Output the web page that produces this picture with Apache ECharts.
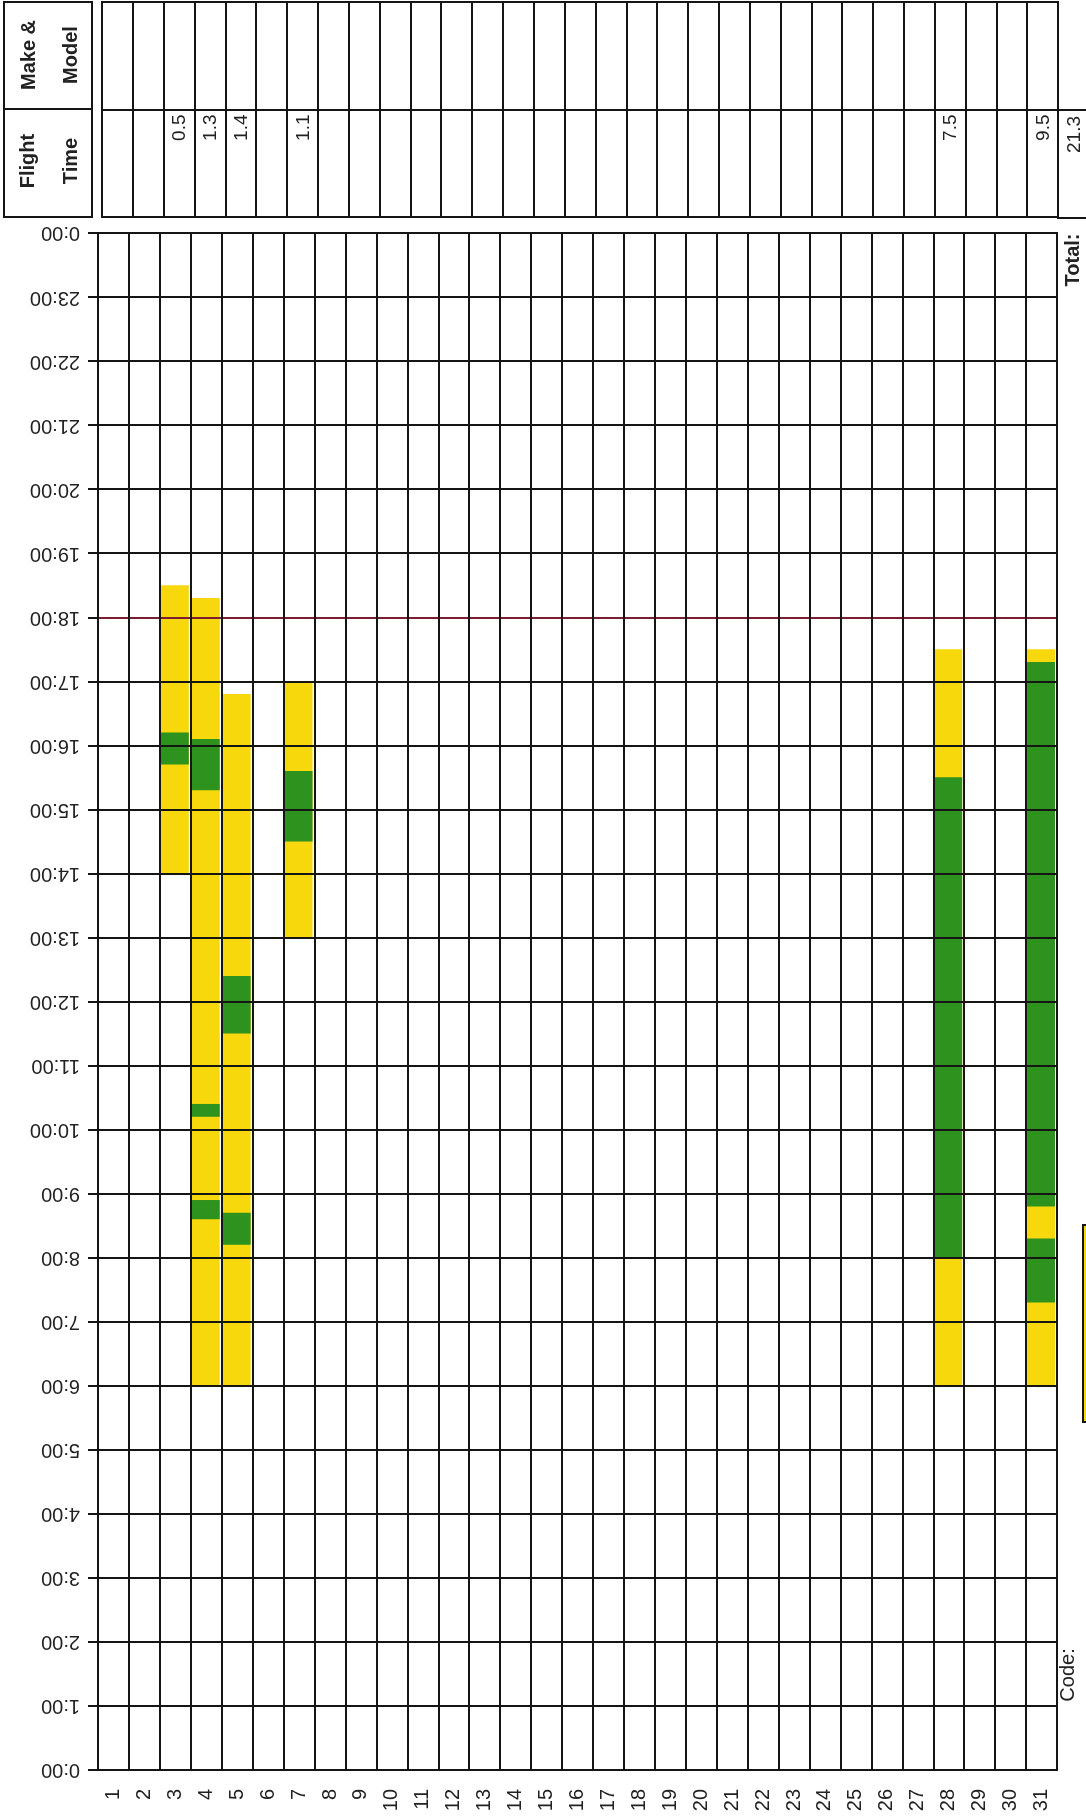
<!DOCTYPE html>
<html>
<head>
<meta charset="utf-8">
<script src="https://cdn.jsdelivr.net/npm/echarts@6/dist/echarts.min.js"></script>
<style>
  html, body { margin: 0; padding: 0; background: #fff; }
  #chart-container { width: 1086px; height: 1817px; }
</style>
</head>
<body>
<div id="chart-container"></div>
<script>
// days of the month along the bottom
var days = ['1', '2', '3', '4', '5', '6', '7', '8', '9', '10', '11', '12', '13', '14', '15', '16',
  '17', '18', '19', '20', '21', '22', '23', '24', '25', '26', '27', '28', '29', '30', '31'];
var hourLabels = ['0:00', '1:00', '2:00', '3:00', '4:00', '5:00', '6:00', '7:00', '8:00', '9:00', '10:00',
  '11:00', '12:00', '13:00', '14:00', '15:00', '16:00', '17:00', '18:00', '19:00', '20:00',
  '21:00', '22:00', '23:00', '0:00'];

// duty periods (yellow), hours of day
var dutyDays = [3, 4, 5, 7, 28, 31];
var dutyStart = [14.0, 6.0, 6.0, 13.0, 6.0, 6.0];
var dutyEnd = [18.5, 18.3, 16.8, 17.0, 17.5, 17.5];

// flight periods (green)
var flightDays = [3, 4, 4, 4, 5, 5, 7, 28, 31, 31];
var flightStart = [15.7, 8.6, 10.2, 15.3, 8.2, 11.5, 14.5, 8.0, 7.3, 8.8];
var flightEnd = [16.2, 8.9, 10.4, 16.1, 8.7, 12.4, 15.6, 15.5, 8.3, 17.3];

// flight time row of the table
var timeDays = [3, 4, 5, 7, 28, 31];
var timeHours = ['0.5', '1.3', '1.4', '1.1', '7.5', '9.5'];
var totalTime = '21.3';

var rowNames = ['Flight Time', 'Make & Model'];

var FONT = '"Liberation Sans", Arial, sans-serif';
var YELLOW = '#F6D80C';
var GREEN = '#2E921F';
var INK = '#151515';

var dom = document.getElementById('chart-container');
var myChart = echarts.init(dom, null, { renderer: 'canvas' });

function barItem(color) {
  return function (params, api) {
    var lo = api.coord([api.value(0), api.value(1)]);
    var hi = api.coord([api.value(0), api.value(2)]);
    var w = api.size([1, 0])[0];
    return {
      type: 'rect',
      shape: { x: lo[0] - w / 2 + 1, y: hi[1], width: w - 3, height: lo[1] - hi[1] },
      style: { fill: color }
    };
  };
}

// the 18:00 line is drawn thin and dark red on the form
var splitColors = hourLabels.map(function (h, i) {
  return i === 18 ? '#7a1f2f' : INK;
});

var option = {
  backgroundColor: '#fff',
  animation: false,
  grid: [
    { left: 98, top: 233, width: 959, height: 1537, show: true, borderColor: INK, borderWidth: 2 },
    { left: 102, top: 2, width: 956, height: 215, show: true, borderColor: INK, borderWidth: 2 }
  ],
  xAxis: [
    {
      gridIndex: 0,
      type: 'category',
      data: days,
      boundaryGap: true,
      z: 5,
      axisLine: { show: true, lineStyle: { color: INK, width: 2 } },
      axisTick: { show: false },
      splitLine: { show: true, lineStyle: { color: INK, width: 2 } },
      axisLabel: {
        interval: 0, rotate: 90, margin: 19,
        color: '#222', fontFamily: FONT, fontSize: 20
      }
    },
    {
      gridIndex: 1,
      type: 'category',
      data: days,
      boundaryGap: true,
      axisLine: { show: true, lineStyle: { color: INK, width: 2 } },
      axisTick: { show: false },
      axisLabel: { show: false },
      splitLine: { show: true, lineStyle: { color: INK, width: 2 } }
    }
  ],
  yAxis: [
    {
      gridIndex: 0,
      type: 'value',
      min: 0,
      max: 24,
      interval: 1,
      z: 5,
      axisLine: { show: true, lineStyle: { color: INK, width: 2 } },
      axisTick: { show: true, length: 10, lineStyle: { color: INK, width: 2 } },
      splitLine: { show: true, lineStyle: { color: splitColors, width: 2 } },
      axisLabel: {
        rotate: 180, margin: 18,
        color: '#222', fontFamily: FONT, fontSize: 20,
        formatter: function (v) { return hourLabels[v]; }
      }
    },
    {
      gridIndex: 1,
      type: 'category',
      data: rowNames,
      axisLine: { show: true, lineStyle: { color: INK, width: 2 } },
      axisTick: { show: false },
      axisLabel: { show: false },
      splitLine: { show: true, lineStyle: { color: INK, width: 2 } }
    }
  ],
  series: [
    {
      name: 'Duty',
      type: 'custom',
      xAxisIndex: 0,
      yAxisIndex: 0,
      z: 2,
      renderItem: barItem(YELLOW),
      data: dutyDays.map(function (d, i) { return [d - 1, dutyStart[i], dutyEnd[i]]; })
    },
    {
      name: 'Flight',
      type: 'custom',
      xAxisIndex: 0,
      yAxisIndex: 0,
      z: 3,
      renderItem: barItem(GREEN),
      data: flightDays.map(function (d, i) { return [d - 1, flightStart[i], flightEnd[i]]; })
    },
    {
      name: 'Flight Time',
      type: 'custom',
      xAxisIndex: 1,
      yAxisIndex: 1,
      renderItem: function (params, api) {
        var c = api.coord([api.value(0), 0]);
        var h = api.size([0, 1])[1];
        return {
          type: 'text',
          x: c[0] + 1,
          y: c[1] - h / 2 + 5,
          rotation: Math.PI / 2,
          style: {
            text: timeHours[params.dataIndex],
            font: '19px ' + FONT,
            fill: '#222',
            align: 'right',
            verticalAlign: 'middle'
          }
        };
      },
      data: timeDays.map(function (d) { return [d - 1, 0]; })
    }
  ],
  graphic: [
    { type: 'rect', shape: { x: 4, y: 2, width: 88, height: 107 }, style: { fill: 'none', stroke: INK, lineWidth: 2 } },
    { type: 'rect', shape: { x: 4, y: 109, width: 88, height: 108 }, style: { fill: 'none', stroke: INK, lineWidth: 2 } },
    { type: 'text', x: 29, y: 55, rotation: Math.PI / 2, style: { text: 'Make &', font: 'bold 20px ' + FONT, fill: '#222', align: 'center', verticalAlign: 'middle' } },
    { type: 'text', x: 71, y: 55, rotation: Math.PI / 2, style: { text: 'Model', font: 'bold 20px ' + FONT, fill: '#222', align: 'center', verticalAlign: 'middle' } },
    { type: 'text', x: 28, y: 161, rotation: Math.PI / 2, style: { text: 'Flight', font: 'bold 20px ' + FONT, fill: '#222', align: 'center', verticalAlign: 'middle' } },
    { type: 'text', x: 71, y: 161, rotation: Math.PI / 2, style: { text: 'Time', font: 'bold 20px ' + FONT, fill: '#222', align: 'center', verticalAlign: 'middle' } },
    { type: 'rect', shape: { x: 1058, y: 110, width: 40, height: 108 }, style: { fill: 'none', stroke: INK, lineWidth: 2 } },
    { type: 'text', x: 1075, y: 116, rotation: Math.PI / 2, style: { text: totalTime, font: '19px ' + FONT, fill: '#222', align: 'right', verticalAlign: 'middle' } },
    { type: 'text', x: 1073, y: 260, rotation: Math.PI / 2, style: { text: 'Total:', font: 'bold 20px ' + FONT, fill: '#222', align: 'center', verticalAlign: 'middle' } },
    { type: 'text', x: 1068, y: 1675, rotation: Math.PI / 2, style: { text: 'Code:', font: '20px ' + FONT, fill: '#222', align: 'center', verticalAlign: 'middle' } },
    { type: 'rect', shape: { x: 1083, y: 1225, width: 30, height: 197 }, style: { fill: 'none', stroke: INK, lineWidth: 2 } },
    { type: 'rect', shape: { x: 1086, y: 1228, width: 30, height: 191 }, style: { fill: 'none', stroke: YELLOW, lineWidth: 4 } }
  ]
};

myChart.setOption(option);
window.addEventListener('resize', myChart.resize);
</script>
</body>
</html>
